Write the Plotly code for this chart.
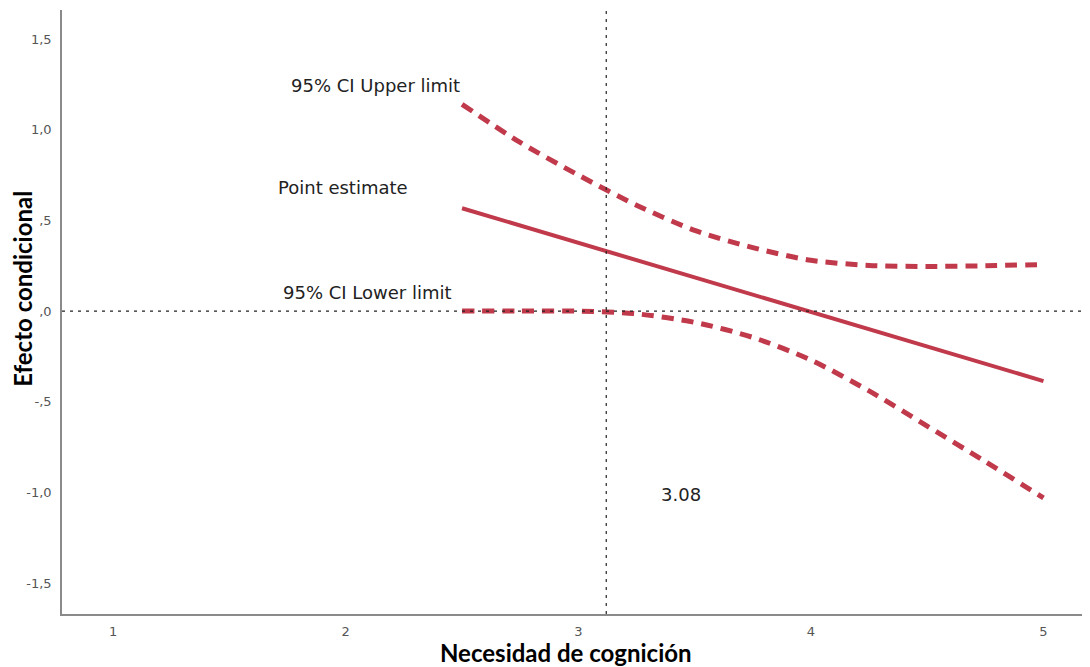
import plotly.graph_objects as go

# Data
x_vals = [2.5, 2.75, 3.0, 3.25, 3.5, 3.75, 4.0, 4.25, 4.5, 4.75, 5.0]
point_estimate = [0.567, 0.472, 0.377, 0.281, 0.186, 0.091, -0.005, -0.100, -0.195, -0.291, -0.386]
ci_upper = [1.14, 0.93, 0.75, 0.584, 0.445, 0.350, 0.280, 0.252, 0.246, 0.250, 0.257]
ci_lower = [0.0, 0.0, 0.0, -0.015, -0.062, -0.145, -0.27, -0.44, -0.634, -0.83, -1.03]

jn_point = 3.12
jn_label = "3.08"

x_ticks = [1, 2, 3, 4, 5]
x_ticktext = ["1", "2", "3", "4", "5"]
y_ticks = [1.5, 1.0, 0.5, 0.0, -0.5, -1.0, -1.5]
y_ticktext = ["1,5", "1,0", ",5", ",0", "-,5", "-1,0", "-1,5"]

RED = "#c03a4b"

fig = go.Figure()
fig.add_trace(go.Scatter(x=x_vals, y=ci_upper, mode="lines",
                         line=dict(color=RED, width=5, dash="12px,8px", shape="spline", smoothing=0.8),
                         hoverinfo="skip", showlegend=False))
fig.add_trace(go.Scatter(x=x_vals, y=ci_lower, mode="lines",
                         line=dict(color=RED, width=5, dash="12px,8px", shape="spline", smoothing=0.8),
                         hoverinfo="skip", showlegend=False))
fig.add_trace(go.Scatter(x=x_vals, y=point_estimate, mode="lines",
                         line=dict(color=RED, width=4),
                         hoverinfo="skip", showlegend=False))

# Reference lines
fig.add_shape(type="line", xref="paper", yref="y", x0=0, x1=1, y0=0, y1=0,
              line=dict(color="#222", width=1.2, dash="3px,5px"), layer="above")
fig.add_shape(type="line", xref="x", yref="paper", x0=jn_point, x1=jn_point, y0=0, y1=1,
              line=dict(color="#222", width=1.2, dash="3px,5px"), layer="above")

ann_font = dict(family="DejaVu Sans", size=18, color="#222")
fig.add_annotation(x=2.5, y=1.245, text="95% CI Upper limit", showarrow=False,
                   xanchor="right", xshift=0, font=ann_font)
fig.add_annotation(x=2.5, y=0.68, text="Point estimate", showarrow=False,
                   xanchor="right", xshift=-52, font=ann_font)
fig.add_annotation(x=2.5, y=0.105, text="95% CI Lower limit", showarrow=False,
                   xanchor="right", xshift=-8, font=ann_font)
fig.add_annotation(x=3.44, y=-1.01, text=jn_label, showarrow=False,
                   font=ann_font)

# Axis titles
title_font = dict(family="Lato", size=24, color="#000")
fig.add_annotation(xref="paper", yref="paper", x=0.49, y=0, yshift=-38,
                   text="<b>Necesidad de cognición</b>", showarrow=False,
                   xanchor="center", yanchor="middle", font=title_font, borderpad=0)
fig.add_annotation(xref="paper", yref="y", x=0, y=0.12, xshift=-24,
                   text="<b>Efecto condicional</b>", showarrow=False, textangle=-90,
                   xanchor="right", yanchor="middle", font=title_font, borderpad=0)

# The page body has an 8px margin, so the figure is sized to end at the window edge.
fig.update_layout(
    width=1082, height=659,
    margin=dict(l=54, r=0, t=2, b=53),
    paper_bgcolor="white", plot_bgcolor="white",
    xaxis=dict(range=[0.78, 5.2], tickvals=x_ticks, ticktext=x_ticktext,
               showgrid=False, zeroline=False, showline=True,
               linecolor="#8a8a8a", linewidth=1.5, ticks="",
               tickfont=dict(family="DejaVu Sans", size=13, color="#555"),
               ticklabelstandoff=5),
    yaxis=dict(range=[-1.67, 1.66], tickvals=y_ticks, ticktext=y_ticktext,
               showgrid=False, zeroline=False, showline=True,
               linecolor="#8a8a8a", linewidth=1.5, ticks="",
               tickfont=dict(family="DejaVu Sans", size=13, color="#555"),
               ticklabelstandoff=6),
)

fig.write_html("out.html")
